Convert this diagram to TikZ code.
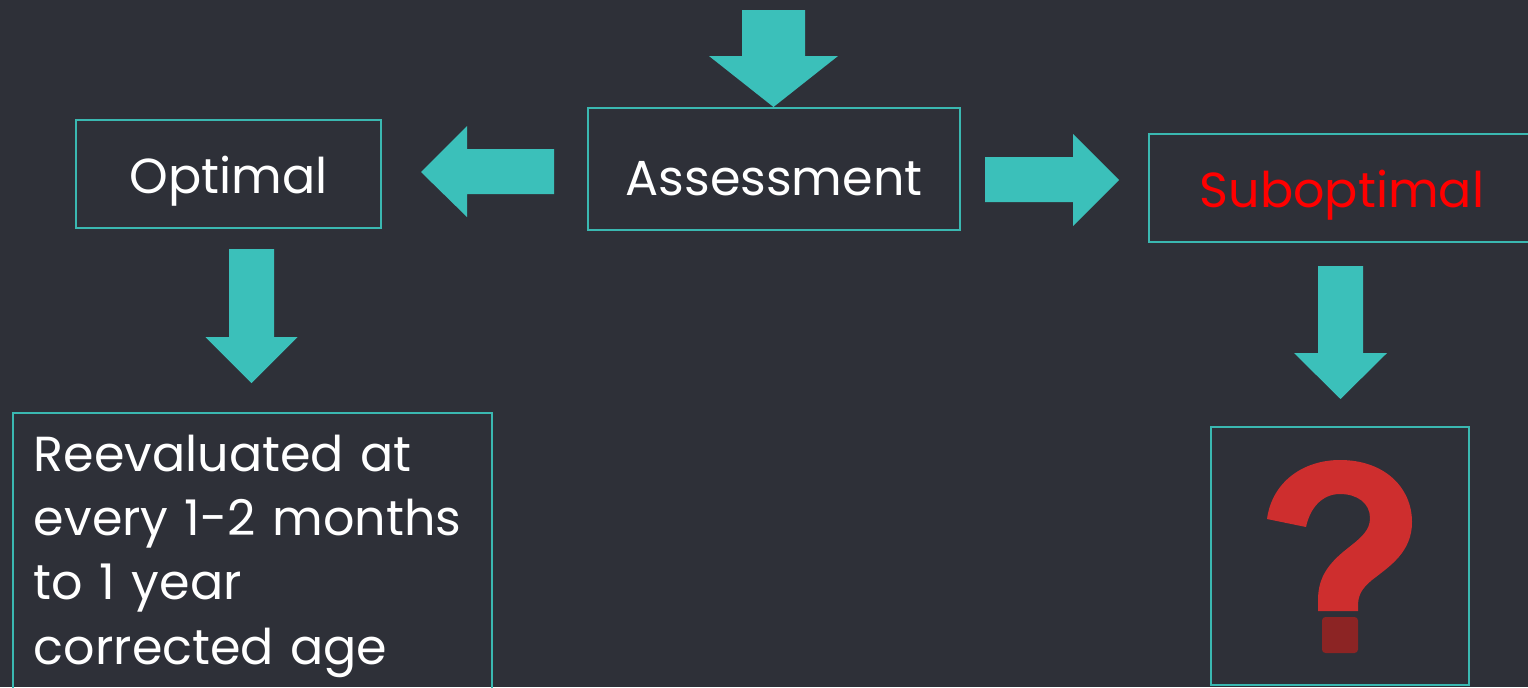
\documentclass[tikz,border=0pt]{standalone}
\usepackage{fontspec}
\setmainfont{Poppins}
\usetikzlibrary{positioning}
\definecolor{slate}{RGB}{46,48,56}
\definecolor{arrowteal}{RGB}{59,192,186}
\definecolor{frameteal}{RGB}{58,184,177}
\definecolor{suboptred}{RGB}{255,0,0}
\definecolor{qred}{RGB}{206,46,46}
\definecolor{qdark}{RGB}{140,36,36}

\begin{document}
\begin{tikzpicture}[
	x=0.02cm,y=-0.02cm,
	box/.style={draw=frameteal,line width=1.1pt,text=white,inner sep=0pt,
		font=\fontsize{28}{34}\selectfont},
	wordbox/.style={box,text depth=0pt},
	blockarrow/.style={fill=arrowteal}
]

	% definitions
	\def\px{0.02cm}

	% background
	\fill[slate] (0,0) rectangle (1528,687);
	\useasboundingbox (0,0) rectangle (1528,687);
	\clip (0,0) rectangle (1528,687);

	% boxes
	\node[wordbox,minimum width={372*\px},minimum height={122*\px},text height={52*\px}] (assess) at (774,169) {Assessment};
	\node[wordbox,minimum width={305*\px},minimum height={108*\px},text height={39*\px}] (optimal) at (228.5,174) {Optimal};
	\node[wordbox,text=suboptred,minimum width={386*\px},minimum height={108*\px},text height={38*\px}] (subopt) at (1342,188) {Suboptimal};
	\node[box,anchor=north west,minimum width={479*\px},text width={437*\px},align=left,
		inner xsep={21*\px},inner ysep={22*\px},font=\fontsize{28}{36.6}\selectfont]
		(reeval) at (12,412) {Reevaluated at\\every 1-2 months\\to 1 year\\corrected age};
	\node[box,minimum width={258*\px},minimum height={258*\px}] (qbox) at (1340,556) {};

	% down arrows
	\foreach \cx/\ytop/\ybase/\ytip/\sw/\hw in {773.5/10/56/107/31.5/64.5, 251.5/249/337/383/22.5/46, 1340.5/266/353/399/22.5/46.5}{
		\fill[blockarrow] (\cx-\sw,\ytop) -- (\cx+\sw,\ytop) -- (\cx+\sw,\ybase) -- (\cx+\hw,\ybase)
			-- (\cx,\ytip) -- (\cx-\hw,\ybase) -- (\cx-\sw,\ybase) -- cycle;
	}

	% side arrows
	\fill[blockarrow] (554,149) -- (467,149) -- (467,126) -- (421,172) -- (467,217) -- (467,194) -- (554,194) -- cycle;
	\fill[blockarrow] (985,157) -- (1073,157) -- (1073,134) -- (1119,180) -- (1073,226) -- (1073,202) -- (985,202) -- cycle;

	% question mark
	\fill[qred] (1267,519) .. controls (1272,482) and (1303,460) .. (1340,460)
		.. controls (1385,460) and (1412,488) .. (1412,522)
		.. controls (1412,552) and (1390,566) .. (1372,580)
		.. controls (1361,589) and (1358,596) .. (1358,606) -- (1358,611) -- (1318,611) -- (1318,600)
		.. controls (1318,576) and (1330,562) .. (1348,548)
		.. controls (1362,537) and (1370,530) .. (1370,518)
		.. controls (1370,503) and (1357,494) .. (1340,494)
		.. controls (1322,494) and (1310,508) .. (1306,527) -- cycle;
	\fill[qdark,rounded corners=2pt] (1322,617) rectangle (1358,653);

\end{tikzpicture}
\end{document}
